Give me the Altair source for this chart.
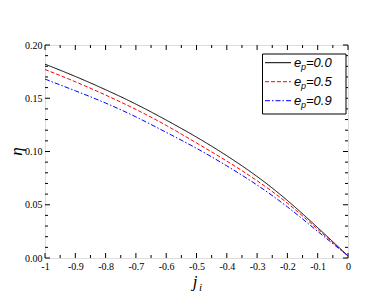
import altair as alt
import pandas as pd

# ---- data ----
j_vals = [-1.0, -0.9, -0.8, -0.7, -0.6, -0.5, -0.4, -0.3, -0.2, -0.1, 0.0]
eta_e00 = [0.182, 0.1705, 0.158, 0.1445, 0.1295, 0.1135, 0.096, 0.0765, 0.054, 0.0285, 0.002]
eta_e05 = [0.177, 0.1655, 0.153, 0.1395, 0.1245, 0.108, 0.091, 0.0725, 0.0515, 0.027, 0.002]
eta_e09 = [0.168, 0.157, 0.1455, 0.1325, 0.118, 0.103, 0.0865, 0.0685, 0.048, 0.025, 0.002]
series_names = ["0.0", "0.5", "0.9"]
series_colors = ["#000000", "#ff0000", "#0000ff"]
series_dashes = [[1, 0], [4, 2], [5, 2, 1.5, 2]]

x_major = [round(-1 + 0.1 * i, 1) for i in range(11)]
x_minor = [round(-0.95 + 0.1 * i, 2) for i in range(10)]
y_major = [0.0, 0.05, 0.10, 0.15, 0.20]
y_minor = [round(0.01 * i, 2) for i in range(21) if i % 5 != 0]

W, H = 303, 213
SERIF = "Liberation Serif"
SANS = "Liberation Sans"

rows = []
for name, ys in zip(series_names, [eta_e00, eta_e05, eta_e09]):
    for xv, yv in zip(j_vals, ys):
        rows.append({"j": xv, "eta": yv, "s": name})
df = pd.DataFrame(rows)

xs = alt.Scale(domain=[-1, 0], nice=False, zero=False)
ys_ = alt.Scale(domain=[0, 0.2], nice=False)

x_axis = alt.Axis(
    values=x_major, ticks=False, domain=False, grid=False, title=None,
    labelExpr="datum.value == 0 ? '0' : toString(round(datum.value*10)/10)",
    labelFont=SERIF, labelFontSize=10, labelColor="black", labelPadding=3,
    labelFlush=False)
y_axis = alt.Axis(
    values=y_major, ticks=False, domain=False, grid=False, title=None,
    format=".2f", labelFont=SERIF, labelFontSize=10, labelColor="black",
    labelPadding=3, labelFlush=False)

lines = alt.Chart(df).mark_line(strokeWidth=1, interpolate="natural").encode(
    x=alt.X("j:Q", scale=xs, axis=x_axis),
    y=alt.Y("eta:Q", scale=ys_, axis=y_axis),
    color=alt.Color("s:N", scale=alt.Scale(domain=series_names, range=series_colors), legend=None),
    strokeDash=alt.StrokeDash("s:N", scale=alt.Scale(domain=series_names, range=series_dashes), legend=None),
)

def xticks(vals, length):
    d = pd.DataFrame({"j": vals})
    b = alt.Chart(d).mark_rule(color="black", strokeWidth=1).encode(
        x=alt.X("j:Q", scale=xs, axis=x_axis), y=alt.value(H), y2=alt.value(H - length))
    t = alt.Chart(d).mark_rule(color="black", strokeWidth=1).encode(
        x=alt.X("j:Q", scale=xs, axis=x_axis), y=alt.value(0), y2=alt.value(length))
    return [b, t]

def yticks(vals, length):
    d = pd.DataFrame({"eta": vals})
    l = alt.Chart(d).mark_rule(color="black", strokeWidth=1).encode(
        y=alt.Y("eta:Q", scale=ys_, axis=y_axis), x=alt.value(0), x2=alt.value(length))
    r = alt.Chart(d).mark_rule(color="black", strokeWidth=1).encode(
        y=alt.Y("eta:Q", scale=ys_, axis=y_axis), x=alt.value(W), x2=alt.value(W - length))
    return [l, r]

tick_layers = xticks(x_major, 5) + xticks(x_minor, 3) + yticks(y_major, 5) + yticks(y_minor, 3)

one = pd.DataFrame({"a": [0]})

# axis titles
ytitle = alt.Chart(one).mark_text(text="η", font=SERIF, fontStyle="italic", fontSize=17,
                                  angle=270, align="center", baseline="middle", color="black").encode(
    x=alt.value(-28), y=alt.value(H / 2))
xt_j = alt.Chart(one).mark_text(text="j", font=SERIF, fontStyle="italic", fontSize=17,
                                align="center", baseline="alphabetic", color="black").encode(
    x=alt.value(150), y=alt.value(241.5))
xt_i = alt.Chart(one).mark_text(text="i", font=SERIF, fontStyle="italic", fontSize=11,
                                align="center", baseline="alphabetic", color="black").encode(
    x=alt.value(155.5), y=alt.value(246))

# legend
leg_box = alt.Chart(one).mark_rect(fill="white", stroke="black", strokeWidth=1).encode(
    x=alt.value(217.5), x2=alt.value(301), y=alt.value(9), y2=alt.value(69))
leg_layers = [leg_box]
row_y = [17.7, 36.7, 55.7]
for name, col, dash, ry in zip(series_names, series_colors, series_dashes, row_y):
    leg_layers.append(alt.Chart(one).mark_rule(color=col, strokeWidth=1, strokeDash=dash).encode(
        x=alt.value(220), x2=alt.value(246), y=alt.value(ry)))
    leg_layers.append(alt.Chart(one).mark_text(text="e", font=SANS, fontStyle="italic", fontSize=13,
                                               align="left", baseline="middle", color="black").encode(
        x=alt.value(249), y=alt.value(ry)))
    leg_layers.append(alt.Chart(one).mark_text(text="p", font=SANS, fontStyle="italic", fontSize=9,
                                               align="left", baseline="middle", color="black").encode(
        x=alt.value(256), y=alt.value(ry + 4)))
    leg_layers.append(alt.Chart(one).mark_text(text="=" + name, font=SANS, fontStyle="italic", fontSize=13,
                                               align="left", baseline="middle", color="black").encode(
        x=alt.value(261), y=alt.value(ry)))

chart = alt.layer(lines, *tick_layers, ytitle, xt_j, xt_i, *leg_layers).properties(
    width=W, height=H,
    autosize=alt.AutoSizeParams(type="none"),
    padding={"left": 37, "top": 37, "right": 36, "bottom": 37},
).configure_view(stroke="black", strokeWidth=1).configure(background="white")

chart.save("out.html", embed_options={"renderer": "svg", "actions": False})
